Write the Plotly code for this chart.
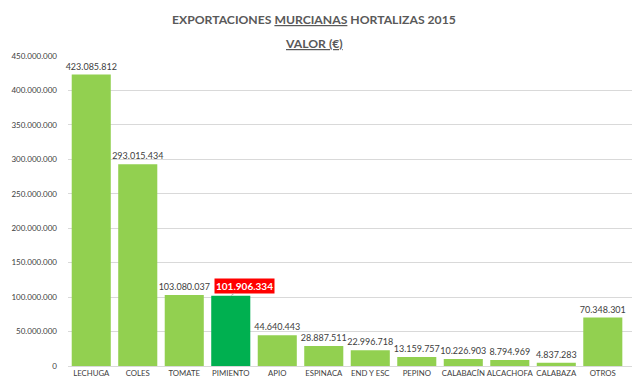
import plotly.graph_objects as go

categories = ["LECHUGA", "COLES", "TOMATE", "PIMIENTO", "APIO", "ESPINACA", "END Y ESC",
              "PEPINO", "CALABACÍN", "ALCACHOFA", "CALABAZA", "OTROS"]
values = [423085812, 293015434, 103080037, 101906334, 44640443, 28887511, 22996718,
          13159757, 10226903, 8794969, 4837283, 70348301]
highlight = "PIMIENTO"
tick_vals = [0, 50e6, 100e6, 150e6, 200e6, 250e6, 300e6, 350e6, 400e6, 450e6]

colors = ["#00B050" if c == highlight else "#92D050" for c in categories]
texts = ["" if c == highlight else f"{v:,}".replace(",", ".") for c, v in zip(categories, values)]

fig = go.Figure()
fig.add_trace(go.Bar(
    x=categories, y=values, marker=dict(color=colors, line=dict(width=0)),
    text=texts, textposition="outside", cliponaxis=False, constraintext="none",
    textfont=dict(family="Lato", size=9, color="#404040"),
))

hv = values[categories.index(highlight)]
fig.add_annotation(
    x=highlight, y=hv, text="<b>" + f"{hv:,}".replace(",", ".") + "</b>",
    showarrow=True, arrowhead=0, arrowcolor="#a6a6a6", arrowwidth=0.8,
    ax=14, ay=-10, bgcolor="#FF0000",
    font=dict(family="Lato", size=10, color="white"), borderpad=1,
)

fig.add_annotation(
    xref="paper", yref="paper", x=0.43, y=1.0, yanchor="middle", yshift=37,
    text="<b>EXPORTACIONES <span style='text-decoration:underline'>MURCIANAS</span> HORTALIZAS 2015</b>",
    showarrow=False, font=dict(family="Lato", size=12.2, color="#595959"),
)
fig.add_annotation(
    xref="paper", yref="paper", x=0.43, y=1.0, yanchor="middle", yshift=13,
    text="<b><span style='text-decoration:underline'>VALOR (€)</span></b>",
    showarrow=False, font=dict(family="Lato", size=12.2, color="#595959"),
)

fig.update_layout(
    width=632, height=380, margin=dict(l=60, r=0, t=48, b=22),
    paper_bgcolor="white", plot_bgcolor="white",
    separators=",.", showlegend=False, bargap=0.16,
    font=dict(family="Lato", color="#404040"),
)
fig.update_xaxes(
    range=[-0.5, 11.8], showgrid=False, showline=True, linecolor="#d9d9d9",
    tickfont=dict(family="Lato", size=7.8, color="#404040"), ticks="",
    tickangle=0, automargin=False,
)
fig.update_yaxes(
    range=[0, 450e6], tickvals=tick_vals, tickformat=",.0f",
    showgrid=True, gridcolor="#d9d9d9", gridwidth=1, zeroline=False,
    tickfont=dict(family="Lato", size=8, color="#404040"), ticks="",
    ticklabelstandoff=10, automargin=False,
)

fig.write_html("out.html")
